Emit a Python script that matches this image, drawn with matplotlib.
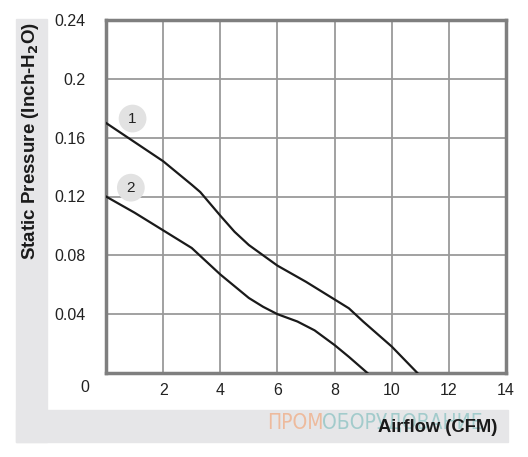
import matplotlib
matplotlib.use("Agg")
import matplotlib.pyplot as plt
from matplotlib.patches import Rectangle

plt.rcParams['font.family'] = ['Liberation Sans', 'DejaVu Sans']

# Data
curve1_x = [0, 1, 2, 3, 3.3, 4, 4.5, 5, 5.5, 6, 7, 8, 8.5, 9, 10, 10.9]
curve1_y = [0.170, 0.157, 0.144, 0.128, 0.123, 0.107, 0.096, 0.087, 0.080, 0.073, 0.062, 0.050, 0.044, 0.035, 0.018, 0.0]
curve2_x = [0, 1, 2, 3, 4, 5, 5.5, 6, 6.7, 7.3, 8, 8.5, 9.15]
curve2_y = [0.120, 0.109, 0.097, 0.085, 0.067, 0.051, 0.045, 0.040, 0.035, 0.029, 0.019, 0.011, 0.0]
x_ticks = [2, 4, 6, 8, 10, 12, 14]
y_ticks = [0.04, 0.08, 0.12, 0.16, 0.2, 0.24]
y_ticklabels = ['0.04', '0.08', '0.12', '0.16', '0.2', '0.24']
curve_labels = ['1', '2']
label_pos = [(0.93, 0.173), (0.87, 0.126)]

W, H = 528, 457
fig = plt.figure(figsize=(W / 100, H / 100), dpi=100)

# gray L-shaped background band
band = '#e6e6e8'
fig.add_artist(Rectangle((16 / W, 1 - 442 / H), (47 - 16) / W, (442 - 19) / H,
                         transform=fig.transFigure, color=band, zorder=0))
fig.add_artist(Rectangle((16 / W, 1 - 442 / H), (508 - 16) / W, (442 - 410) / H,
                         transform=fig.transFigure, color=band, zorder=0))

ax = fig.add_axes([106 / W, 1 - 373 / H, (506 - 106) / W, (373 - 20) / H])
ax.set_xlim(0, 14)
ax.set_ylim(0, 0.24)
ax.set_xticks(x_ticks)
ax.set_yticks(y_ticks)
ax.set_yticklabels(y_ticklabels)
ax.tick_params(length=0, labelsize=11.5, colors='#222222', pad=7)
ax.tick_params(axis='y', pad=15)
ax.grid(True, color='#9a9a9a', linewidth=1.3)
ax.set_axisbelow(True)
for s in ax.spines.values():
    s.set_color('#7f7f7f')
    s.set_linewidth(2.5)

ax.plot(curve1_x, curve1_y, color='#1a1a1a', linewidth=1.6, zorder=3)
ax.plot(curve2_x, curve2_y, color='#1a1a1a', linewidth=1.6, zorder=3)

for lab, (lx, ly) in zip(curve_labels, label_pos):
    ax.text(lx, ly, lab, ha='center', va='center', fontsize=11, color='#222222',
            bbox=dict(boxstyle='circle,pad=0.45', facecolor='#e2e2e2', edgecolor='none'),
            zorder=4)

# origin label
fig.text(85 / W, 1 - 387 / H, '0', ha='center', va='center', fontsize=11.5, color='#222222')

# watermark
fig.text(267 / W, 1 - 423 / H, 'ПРОМ', ha='left', va='center', fontsize=15,
         color='#f0b08a', alpha=0.8, family='DejaVu Sans', fontstretch='condensed', zorder=1)
fig.text(322 / W, 1 - 423 / H, 'ОБОРУДОВАНИЕ', ha='left', va='center', fontsize=15,
         color='#86c0c0', alpha=0.7, family='DejaVu Sans', fontstretch='condensed', zorder=1)

fig.text(497 / W, 1 - 428 / H, 'Airflow (CFM)', ha='right', va='center',
         fontsize=13.2, fontweight='bold', color='#1a1a1a', zorder=5)
fig.text(31 / W, 1 - 141 / H, 'Static Pressure (Inch-H$_\\mathbf{2}$O)', ha='center', va='center',
         rotation=90, fontsize=13.5, fontweight='bold', color='#1a1a1a')

fig.savefig('out.png', dpi=100)
